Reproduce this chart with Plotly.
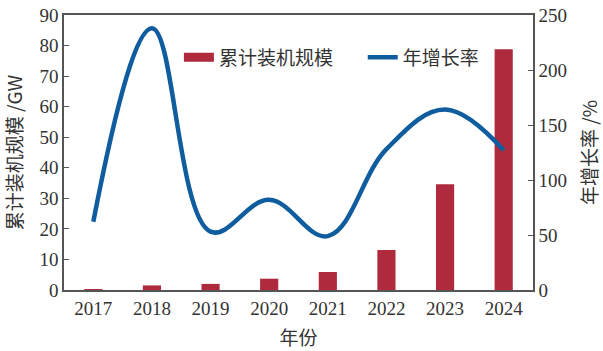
import plotly.graph_objects as go

years = ["2017", "2018", "2019", "2020", "2021", "2022", "2023", "2024"]
capacity_gw = [0.1, 1.5, 2.0, 3.7, 5.9, 13.1, 34.6, 78.8]
growth_pct = [62, 238, 53, 82, 49, 128, 164, 127]

bar_color = "#AE2A3C"
line_color = "#0F5C9E"
serif = "Liberation Serif, Times New Roman, serif"
cjk = "Noto Sans CJK SC, sans-serif"

fig = go.Figure()
fig.add_trace(go.Bar(
    x=years, y=capacity_gw, width=0.31,
    marker=dict(color=bar_color, line=dict(width=0)),
    name="累计装机规模", showlegend=False, yaxis="y",
))
fig.add_trace(go.Scatter(
    x=years, y=growth_pct, mode="lines",
    line=dict(color=line_color, width=4.5, shape="spline", smoothing=1.1),
    name="年增长率", showlegend=False, yaxis="y2",
))
# legend-only entries
fig.add_trace(go.Scatter(x=[None], y=[None], mode="lines", legend="legend",
                         line=dict(color=bar_color, width=9), name="累计装机规模"))
fig.add_trace(go.Scatter(x=[None], y=[None], mode="lines", legend="legend2",
                         line=dict(color=line_color, width=4.5), name="年增长率", yaxis="y2"))

axis_common = dict(showline=True, linecolor="#555", linewidth=1.5, showgrid=False,
                   zeroline=False, ticks="inside", ticklen=5, tickcolor="#555",
                   automargin=False,
                   tickfont=dict(family=serif, size=19, color="#333"))

legend_common = dict(orientation="h", y=0.915, xanchor="left", yanchor="top",
                     bgcolor="rgba(0,0,0,0)", font=dict(family=cjk, size=19, color="#333"),
                     itemwidth=30)

fig.update_layout(
    width=603, height=351,
    margin=dict(l=64, r=70, t=15, b=61),
    paper_bgcolor="white", plot_bgcolor="white",
    xaxis=dict(type="category", range=[-0.5, 7.5], showline=True, linecolor="#555",
               linewidth=1.5, mirror=True, ticks="", showgrid=False, automargin=False,
               tickfont=dict(family=serif, size=19, color="#333"),
               title=dict(text="年份", font=dict(family=cjk, size=19, color="#333"), standoff=14)),
    yaxis=dict(range=[0, 90], dtick=10, **axis_common,
               title=dict(text="累计装机规模 /GW", font=dict(family=cjk, size=19, color="#333"), standoff=12)),
    yaxis2=dict(range=[0, 250], dtick=50, overlaying="y", side="right", **axis_common,
                title=dict(text="年增长率 /%", font=dict(family=cjk, size=19, color="#333"), standoff=18)),
    legend=dict(x=0.245, **legend_common),
    legend2=dict(x=0.637, **legend_common),
    showlegend=True,
)

fig.write_html("out.html")
